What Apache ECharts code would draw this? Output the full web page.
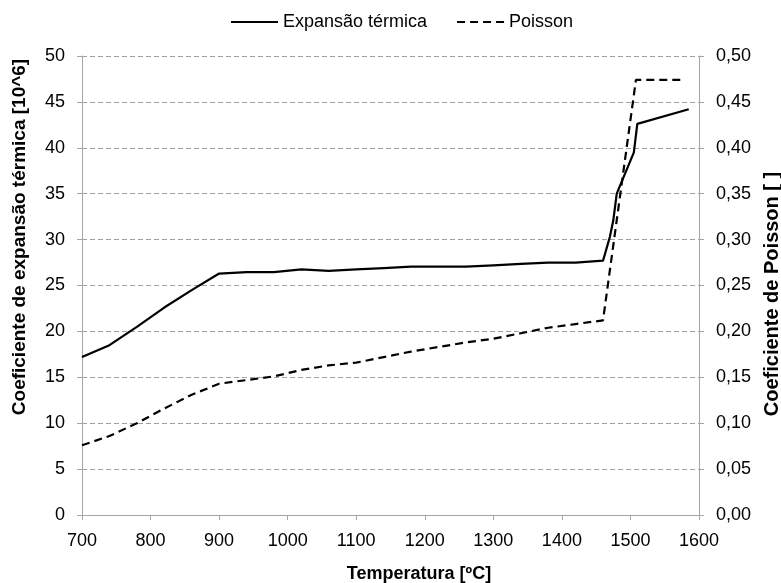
<!DOCTYPE html>
<html>
<head>
<meta charset="utf-8">
<script src="https://cdn.jsdelivr.net/npm/echarts@6/dist/echarts.min.js"></script>
<style>
  html, body { margin: 0; padding: 0; background: #fff; }
  #chart { width: 781px; height: 583px; }
</style>
</head>
<body>
<div id="chart"></div>
<script>
// Temperature (ºC) and thermal expansion coefficient [10^6]
var expTemps = [700, 740, 780, 820, 860, 900, 940, 980, 1020, 1060, 1100, 1140, 1180, 1220, 1260, 1300, 1340, 1380, 1420, 1460, 1470, 1475, 1480, 1505, 1510, 1585];
var expValues = [17.2, 18.5, 20.5, 22.6, 24.5, 26.3, 26.45, 26.45, 26.75, 26.6, 26.75, 26.9, 27.05, 27.05, 27.05, 27.2, 27.35, 27.5, 27.5, 27.7, 30.3, 32.1, 35.0, 39.5, 42.6, 44.2];

// Temperature (ºC) and Poisson's ratio
var poiTemps = [700, 740, 780, 820, 860, 900, 940, 980, 1020, 1060, 1100, 1140, 1180, 1220, 1260, 1300, 1340, 1380, 1420, 1460, 1508, 1580];
var poiValues = [0.076, 0.086, 0.100, 0.116, 0.131, 0.143, 0.147, 0.151, 0.158, 0.163, 0.166, 0.172, 0.178, 0.183, 0.188, 0.192, 0.198, 0.204, 0.208, 0.212, 0.474, 0.474];

var seriesNames = ['Expansão térmica', 'Poisson'];
var xTitle = 'Temperatura [ºC]';
var yLeftTitle = 'Coeficiente de expansão térmica [10^6]';
var yRightTitle = 'Coeficiente de Poisson [ ]';

function pairs(xs, ys) {
  return xs.map(function (x, i) { return [x, ys[i]]; });
}

var FONT = 'Liberation Sans, Arial, sans-serif';
var axisGray = '#a6a6a6';

var chart = echarts.init(document.getElementById('chart'), null, { renderer: 'canvas' });
chart.setOption({
  animation: false,
  backgroundColor: '#ffffff',
  textStyle: { fontFamily: FONT },
  grid: { left: 82, right: 82, top: 56, bottom: 68, containLabel: false },
  legend: {
    top: 8,
    left: 225,
    itemWidth: 47,
    itemHeight: 14,
    itemGap: 29,
    itemStyle: { opacity: 0 },
    textStyle: { fontFamily: FONT, fontSize: 18, color: '#000' },
    data: seriesNames
  },
  xAxis: {
    type: 'value',
    min: 700,
    max: 1600,
    interval: 100,
    axisLine: { lineStyle: { color: axisGray, width: 1 } },
    axisTick: { show: true, length: 5, lineStyle: { color: axisGray } },
    axisLabel: {
      fontFamily: FONT, fontSize: 18, color: '#000', margin: 17,
      formatter: function (v) { return String(v); }
    },
    splitLine: { show: false }
  },
  yAxis: [
    {
      type: 'value',
      min: 0,
      max: 50,
      interval: 5,
      position: 'left',
      axisLine: { show: true, lineStyle: { color: axisGray, width: 1 } },
      axisTick: { show: true, length: 5, lineStyle: { color: axisGray } },
      axisLabel: { fontFamily: FONT, fontSize: 18, color: '#000', margin: 17 },
      splitLine: { show: true, lineStyle: { color: '#a0a0a0', width: 1, type: [5, 3] } }
    },
    {
      type: 'value',
      min: 0,
      max: 0.5,
      interval: 0.05,
      position: 'right',
      axisLine: { show: true, lineStyle: { color: axisGray, width: 1 } },
      axisTick: { show: true, length: 5, lineStyle: { color: axisGray } },
      axisLabel: {
        fontFamily: FONT, fontSize: 18, color: '#000', margin: 17,
        formatter: function (v) { return v.toFixed(2).replace('.', ','); }
      },
      splitLine: { show: false }
    }
  ],
  graphic: [
    {
      type: 'text',
      x: 419, y: 574,
      style: { text: xTitle, font: 'bold 18px ' + FONT, fill: '#000', textAlign: 'center', textVerticalAlign: 'middle' }
    },
    {
      type: 'text',
      x: 20, y: 237,
      rotation: Math.PI / 2,
      style: { text: yLeftTitle, font: 'bold 19px ' + FONT, fill: '#000', textAlign: 'center', textVerticalAlign: 'middle' }
    },
    {
      type: 'text',
      x: 772, y: 294,
      rotation: Math.PI / 2,
      style: { text: yRightTitle, font: 'bold 20px ' + FONT, fill: '#000', textAlign: 'center', textVerticalAlign: 'middle' }
    }
  ],
  series: [
    {
      name: seriesNames[0],
      type: 'line',
      yAxisIndex: 0,
      data: pairs(expTemps, expValues),
      showSymbol: false,
      symbol: 'none',
      symbolSize: 0,
      lineStyle: { color: '#000', width: 2.2, type: 'solid' },
      itemStyle: { color: '#000' }
    },
    {
      name: seriesNames[1],
      type: 'line',
      yAxisIndex: 1,
      data: pairs(poiTemps, poiValues),
      showSymbol: false,
      symbol: 'none',
      symbolSize: 0,
      lineStyle: { color: '#000', width: 2.2, type: [8, 5] },
      itemStyle: { color: '#000' }
    }
  ]
});
</script>
</body>
</html>
